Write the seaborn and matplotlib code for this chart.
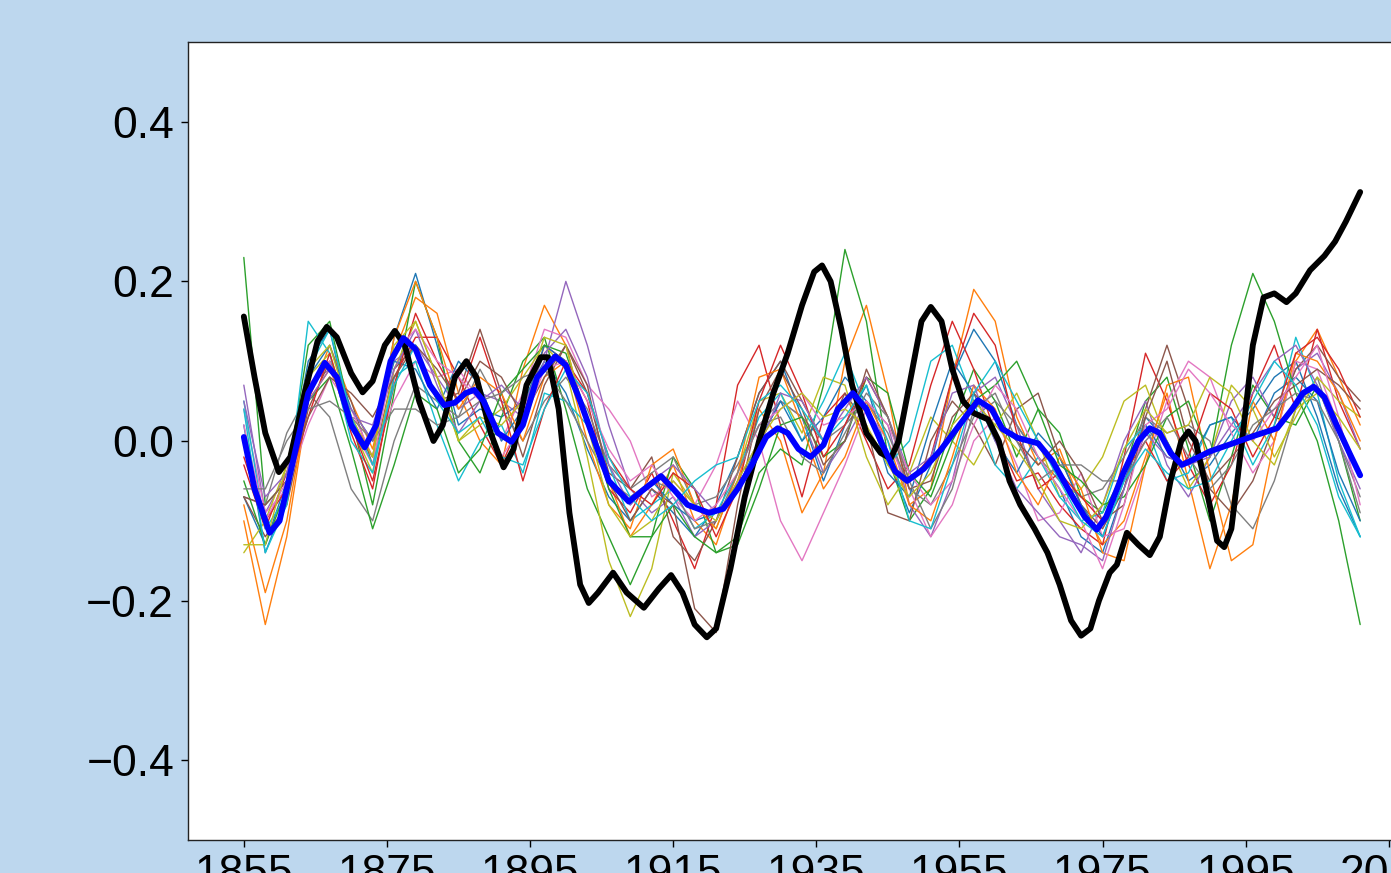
import numpy as np
import pandas as pd
import matplotlib
matplotlib.use("Agg")
import matplotlib.pyplot as plt
import seaborn as sns

# common year grid of the thin model runs
YEARS = list(range(1855, 2012, 3))

RUNS = [
    [-0.07, -0.13, -0.05, 0.10, 0.14, 0.02, -0.02, 0.13, 0.21, 0.12,
     0.02, 0.04, 0.03, 0.05, 0.10, 0.06, -0.01, -0.07, -0.10, -0.06,
     -0.09, -0.12, -0.08, -0.02, 0.06, 0.10, 0.03, -0.05, 0.02, 0.07,
     -0.02, -0.09, -0.03, 0.08, 0.14, 0.10, 0.02, -0.02, -0.06, -0.12,
     -0.14, -0.06, 0.03, 0.00, -0.05, -0.03, 0.01, 0.04, 0.08, 0.10,
     0.03, -0.06, -0.12],
    [-0.10, -0.23, -0.12, 0.05, 0.12, 0.05, -0.01, 0.11, 0.18, 0.16,
     0.06, 0.00, -0.03, 0.09, 0.17, 0.12, 0.02, -0.05, -0.12, -0.08,
     -0.03, -0.10, -0.13, -0.05, 0.04, 0.00, -0.09, -0.04, 0.10, 0.17,
     0.06, -0.08, -0.06, 0.08, 0.19, 0.15, 0.03, -0.03, -0.01, -0.08,
     -0.13, -0.10, -0.02, 0.06, -0.05, -0.16, -0.08, 0.05, 0.00, 0.10,
     0.14, 0.08, 0.02],
    [0.23, -0.08, -0.05, 0.12, 0.15, 0.03, -0.08, 0.06, 0.20, 0.13,
     0.00, -0.04, 0.03, 0.10, 0.13, 0.04, -0.06, -0.12, -0.18, -0.12,
     -0.02, -0.06, -0.14, -0.12, -0.04, -0.01, -0.03, 0.07, 0.24, 0.15,
     -0.02, -0.10, -0.06, 0.02, 0.09, 0.05, -0.02, 0.04, 0.01, -0.07,
     -0.09, -0.04, 0.05, 0.08, -0.01, -0.10, -0.02, 0.07, 0.03, 0.02,
     0.07, 0.00, -0.10],
    [-0.03, -0.11, -0.04, 0.06, 0.10, 0.01, -0.06, 0.08, 0.13, 0.13,
     0.08, 0.02, -0.03, 0.03, 0.12, 0.10, 0.05, -0.06, -0.09, -0.04,
     -0.10, -0.16, -0.08, 0.07, 0.12, 0.02, -0.07, 0.03, 0.06, 0.00,
     -0.06, -0.03, 0.07, 0.15, 0.09, 0.01, -0.05, -0.04, -0.08, -0.11,
     -0.13, -0.02, 0.11, 0.05, -0.03, -0.08, -0.03, 0.06, 0.12, 0.04,
     0.14, 0.05, -0.01],
    [0.07, -0.09, -0.04, 0.07, 0.09, 0.03, 0.02, 0.10, 0.12, 0.08,
     0.04, 0.06, 0.05, 0.03, 0.10, 0.20, 0.12, 0.02, -0.06, -0.09,
     -0.07, -0.12, -0.10, -0.05, 0.00, 0.05, 0.03, -0.04, 0.00, 0.05,
     0.02, -0.08, -0.12, -0.05, 0.06, 0.08, 0.02, -0.06, -0.10, -0.14,
     -0.08, 0.00, 0.05, -0.03, -0.07, -0.02, 0.05, 0.08, 0.03, 0.09,
     0.11, 0.06, -0.01],
    [-0.07, -0.12, -0.08, 0.04, 0.10, 0.05, -0.03, 0.09, 0.12, 0.05,
     0.06, 0.14, 0.06, -0.02, 0.07, 0.12, 0.06, -0.04, -0.06, -0.02,
     -0.12, -0.15, -0.10, -0.02, 0.06, 0.10, 0.05, 0.00, 0.06, 0.02,
     -0.09, -0.10, 0.00, 0.05, 0.02, -0.03, 0.04, 0.06, -0.02, -0.08,
     -0.11, -0.06, 0.04, 0.12, 0.04, -0.06, -0.09, -0.05, 0.02, 0.09,
     0.12, 0.08, 0.05],
    [0.04, -0.09, -0.06, 0.02, 0.08, 0.04, -0.02, 0.05, 0.10, 0.08,
     0.09, 0.05, 0.00, 0.06, 0.14, 0.13, 0.07, 0.04, 0.00, -0.07,
     -0.05, -0.08, -0.03, 0.05, 0.00, -0.10, -0.15, -0.09, -0.03, 0.04,
     0.00, -0.06, -0.12, -0.08, 0.00, 0.03, -0.03, -0.10, -0.09, -0.04,
     -0.12, -0.11, -0.03, 0.05, 0.10, 0.08, 0.01, -0.04, 0.00, 0.10,
     0.09, 0.02, -0.04],
    [-0.07, -0.08, 0.01, 0.06, 0.03, -0.06, -0.10, 0.00, 0.07, 0.05,
     0.03, 0.09, 0.04, 0.00, 0.05, 0.08, 0.04, -0.03, -0.06, -0.04,
     -0.02, -0.08, -0.07, -0.03, 0.02, 0.05, 0.03, 0.00, 0.02, 0.05,
     0.01, -0.06, -0.08, -0.03, 0.03, 0.05, 0.02, -0.02, -0.05, -0.07,
     -0.06, -0.02, 0.03, 0.01, 0.02, 0.00, -0.08, -0.11, -0.05, 0.04,
     0.08, 0.00, -0.07],
    [-0.14, -0.10, -0.03, 0.08, 0.11, 0.02, -0.04, 0.09, 0.15, 0.08,
     0.00, 0.02, 0.04, 0.08, 0.12, 0.09, -0.02, -0.15, -0.22, -0.16,
     -0.04, -0.08, -0.11, -0.04, 0.05, 0.06, 0.01, 0.08, 0.07, -0.02,
     -0.08, -0.04, 0.03, 0.00, -0.03, 0.02, 0.06, 0.00, -0.07, -0.06,
     -0.02, 0.05, 0.07, 0.00, -0.06, -0.02, 0.07, 0.04, -0.02, 0.03,
     0.08, 0.05, 0.03],
    [0.05, -0.11, -0.07, 0.15, 0.11, 0.00, -0.04, 0.08, 0.10, 0.02,
     -0.05, 0.00, 0.02, -0.04, 0.06, 0.05, 0.02, -0.03, -0.10, -0.08,
     -0.06, -0.11, -0.09, -0.04, 0.03, 0.06, 0.00, 0.05, 0.11, 0.04,
     -0.03, 0.00, 0.10, 0.12, 0.05, -0.03, -0.06, -0.02, -0.07, -0.10,
     -0.09, -0.01, 0.02, -0.05, -0.04, 0.02, 0.03, -0.03, 0.02, 0.13,
     0.06, -0.05, -0.12],
    [0.02, -0.14, -0.07, 0.08, 0.12, 0.04, 0.00, 0.10, 0.09, 0.04,
     0.10, 0.07, 0.00, 0.04, 0.12, 0.10, 0.03, -0.05, -0.08, -0.05,
     -0.08, -0.10, -0.09, -0.06, 0.00, 0.05, 0.00, 0.03, 0.08, 0.05,
     -0.04, -0.07, 0.02, 0.10, 0.06, 0.00, -0.04, 0.01, -0.02, -0.08,
     -0.12, -0.05, 0.02, -0.02, -0.03, 0.02, 0.03, 0.00, 0.06, 0.08,
     0.05, -0.04, -0.10],
    [-0.08, -0.19, -0.10, 0.05, 0.09, 0.03, -0.02, 0.13, 0.20, 0.13,
     0.04, 0.08, 0.06, 0.00, 0.08, 0.10, 0.00, -0.08, -0.11, -0.03,
     -0.01, -0.08, -0.11, -0.04, 0.08, 0.09, 0.02, -0.06, -0.02, 0.05,
     0.00, -0.08, -0.10, -0.02, 0.07, 0.04, -0.04, -0.08, -0.02, -0.06,
     -0.14, -0.15, -0.03, 0.07, 0.08, -0.04, -0.15, -0.13, 0.00, 0.11,
     0.10, 0.06, 0.00],
    [-0.05, -0.13, -0.06, 0.05, 0.08, -0.01, -0.11, -0.03, 0.06, 0.04,
     -0.04, -0.01, 0.06, 0.09, 0.12, 0.11, 0.03, -0.06, -0.12, -0.12,
     -0.08, -0.12, -0.14, -0.13, -0.06, 0.02, 0.03, -0.02, 0.00, 0.08,
     0.06, -0.04, -0.07, 0.00, 0.05, 0.07, 0.10, 0.04, -0.03, -0.05,
     -0.08, -0.07, -0.03, 0.03, 0.05, -0.02, 0.12, 0.21, 0.15, 0.06,
     0.00, -0.10, -0.23],
    [-0.02, -0.10, -0.06, 0.03, 0.11, 0.02, -0.05, 0.07, 0.16, 0.10,
     0.05, 0.13, 0.05, -0.05, 0.04, 0.10, 0.06, -0.02, -0.06, -0.08,
     -0.04, -0.06, -0.12, -0.06, 0.05, 0.12, 0.06, -0.02, 0.02, 0.08,
     0.03, -0.05, -0.02, 0.08, 0.16, 0.12, 0.01, -0.06, -0.04, -0.07,
     -0.10, -0.04, 0.00, -0.05, -0.02, 0.06, 0.04, -0.02, 0.03, 0.11,
     0.13, 0.09, 0.03],
    [0.05, -0.07, -0.04, 0.05, 0.09, 0.04, 0.00, 0.09, 0.14, 0.07,
     0.01, 0.05, 0.07, 0.04, 0.11, 0.14, 0.08, -0.03, -0.08, -0.05,
     -0.03, -0.06, -0.09, -0.06, -0.01, 0.06, 0.05, 0.00, 0.04, 0.08,
     0.03, -0.04, -0.02, 0.06, 0.07, 0.00, -0.06, -0.09, -0.12, -0.13,
     -0.15, -0.06, 0.01, -0.02, -0.03, -0.02, 0.02, 0.06, 0.10, 0.12,
     0.07, 0.00, -0.06],
    [-0.07, -0.08, -0.05, 0.03, 0.08, 0.06, 0.03, 0.08, 0.12, 0.09,
     0.05, 0.10, 0.08, 0.03, 0.08, 0.12, 0.07, -0.05, -0.10, -0.06,
     -0.08, -0.21, -0.24, -0.08, 0.04, 0.09, 0.04, -0.03, 0.00, 0.09,
     0.03, -0.06, -0.05, 0.03, 0.06, 0.03, 0.00, -0.03, 0.00, -0.04,
     -0.10, -0.08, 0.03, 0.10, 0.00, -0.05, -0.02, 0.01, 0.05, 0.07,
     0.09, 0.07, 0.04],
    [0.02, -0.10, -0.05, 0.07, 0.10, 0.02, -0.03, 0.11, 0.14, 0.10,
     0.08, 0.05, -0.02, 0.02, 0.09, 0.10, 0.05, -0.01, -0.05, -0.03,
     -0.07, -0.10, -0.08, -0.04, 0.02, 0.04, 0.06, 0.02, 0.03, 0.05,
     0.02, -0.04, -0.08, -0.05, 0.02, 0.07, 0.04, -0.02, -0.06, -0.10,
     -0.16, -0.08, 0.02, 0.04, 0.09, 0.06, 0.02, 0.00, 0.04, 0.08,
     0.12, 0.03, -0.08],
    [-0.06, -0.06, 0.00, 0.04, 0.05, 0.03, 0.00, 0.04, 0.04, 0.02,
     0.03, 0.05, 0.06, 0.08, 0.09, 0.05, 0.00, -0.05, -0.07, -0.05,
     -0.06, -0.11, -0.10, -0.04, 0.02, 0.03, -0.02, -0.04, 0.01, 0.06,
     0.03, -0.05, -0.11, -0.06, 0.04, 0.06, 0.00, -0.05, -0.03, -0.03,
     -0.05, -0.05, 0.00, 0.03, -0.02, -0.06, -0.03, 0.02, 0.04, 0.06,
     0.05, 0.00, -0.09],
    [-0.13, -0.13, -0.03, 0.09, 0.12, 0.03, -0.02, 0.12, 0.15, 0.08,
     0.00, 0.03, 0.02, 0.05, 0.13, 0.12, 0.02, -0.08, -0.12, -0.10,
     -0.05, -0.08, -0.10, -0.05, 0.00, 0.04, 0.06, 0.03, 0.04, 0.02,
     -0.03, -0.07, -0.04, 0.02, 0.05, 0.02, -0.01, -0.05, -0.10, -0.11,
     -0.08, -0.01, 0.04, 0.01, 0.02, 0.08, 0.06, 0.00, -0.03, 0.04,
     0.06, 0.03, -0.01],
    [0.04, -0.14, -0.08, 0.09, 0.14, 0.03, -0.03, 0.07, 0.12, 0.05,
     0.01, 0.03, -0.02, -0.03, 0.04, 0.09, 0.06, -0.02, -0.07, -0.10,
     -0.08, -0.05, -0.03, -0.02, 0.05, 0.07, 0.04, 0.00, 0.03, 0.07,
     0.00, -0.10, -0.11, -0.03, 0.06, 0.10, 0.05, 0.00, -0.05, -0.10,
     -0.12, -0.05, -0.01, -0.04, -0.06, -0.05, 0.00, 0.05, 0.10, 0.07,
     0.02, -0.07, -0.12],
]

# observed series (thick black)
OBS_YEARS = [1855, 1856.5, 1858, 1859.9, 1861.5, 1863.5, 1865.3, 1866.6, 1868, 1870,
             1871.6, 1873, 1874.7, 1876.1, 1877.5, 1879.5, 1881.5, 1882.8, 1884.5, 1886.1,
             1887.5, 1889.5, 1891.3, 1892.7, 1894.5, 1896.5, 1897.5, 1899, 1900.5, 1902,
             1903.2, 1904.5, 1906.6, 1908.5, 1910.9, 1913, 1914.7, 1916.3, 1918, 1919.7,
             1921, 1923, 1925, 1927, 1929, 1931, 1933, 1934.7, 1935.8, 1937,
             1938.5, 1940, 1942, 1944, 1945.4, 1946.5, 1948, 1949.7, 1951, 1952.5,
             1954, 1955.5, 1957, 1959, 1960.5, 1962, 1963.5, 1965.5, 1967.3, 1969,
             1970.6, 1972, 1973.3, 1974.5, 1976, 1977, 1978.4, 1980, 1981.6, 1983,
             1984.5, 1986, 1987, 1988, 1989.5, 1991, 1992, 1993, 1994.5, 1996,
             1997.5, 1999, 2000.7, 2002, 2004, 2006, 2007.5, 2009, 2011]
OBS_VALUES = [0.156, 0.08, 0.01, -0.039, -0.02, 0.06, 0.125, 0.143, 0.13, 0.085,
              0.061, 0.075, 0.12, 0.138, 0.12, 0.05, 0.0, 0.02, 0.08, 0.10,
              0.08, 0.01, -0.033, -0.01, 0.07, 0.105, 0.105, 0.04, -0.09, -0.18,
              -0.203, -0.19, -0.165, -0.19, -0.209, -0.185, -0.168, -0.19, -0.23, -0.246,
              -0.235, -0.16, -0.07, 0.0, 0.06, 0.11, 0.17, 0.212, 0.22, 0.2,
              0.14, 0.07, 0.01, -0.015, -0.022, 0.0, 0.07, 0.15, 0.168, 0.15,
              0.09, 0.05, 0.035, 0.027, 0.0, -0.05, -0.08, -0.11, -0.14, -0.18,
              -0.225, -0.244, -0.235, -0.2, -0.165, -0.155, -0.115, -0.13, -0.143, -0.12,
              -0.05, 0.0, 0.012, 0.0, -0.06, -0.125, -0.133, -0.11, 0.0, 0.12,
              0.18, 0.185, 0.174, 0.185, 0.214, 0.232, 0.25, 0.275, 0.312]

# ensemble mean (thick blue)
MEAN_YEARS = [1855, 1856.5, 1858.6, 1860, 1862, 1864, 1866.3, 1868, 1870, 1871.9,
              1873.5, 1875.5, 1877.3, 1879, 1881, 1883, 1884.5, 1886, 1887.2, 1888.5,
              1890.5, 1892.4, 1894, 1896, 1898.5, 1900, 1902, 1904, 1906, 1908.8,
              1911, 1913.3, 1915, 1917, 1920, 1922, 1924, 1926, 1928, 1929.6,
              1931, 1932.5, 1934.2, 1936, 1938, 1940.1, 1942, 1944, 1946, 1947.7,
              1950, 1952.4, 1955, 1957.6, 1959.5, 1961, 1963.1, 1966, 1968, 1970.5,
              1972.5, 1974.2, 1975.5, 1977.9, 1980, 1981.6, 1983, 1984.5, 1986.1, 1988,
              1990, 1993.2, 1996, 1999.4, 2001.5, 2003, 2004.5, 2006, 2007.7, 2009.5,
              2011]
MEAN_VALUES = [0.005, -0.06, -0.115, -0.1, -0.02, 0.06, 0.098, 0.08, 0.02, -0.008,
               0.02, 0.1, 0.129, 0.115, 0.07, 0.045, 0.048, 0.06, 0.064, 0.05,
               0.01, -0.001, 0.02, 0.08, 0.106, 0.095, 0.05, 0.0, -0.05, -0.076,
               -0.06, -0.044, -0.06, -0.08, -0.09, -0.085, -0.06, -0.03, 0.005, 0.016,
               0.01, -0.01, -0.02, -0.005, 0.04, 0.06, 0.04, 0.0, -0.038, -0.05,
               -0.035, -0.011, 0.02, 0.051, 0.04, 0.015, 0.004, -0.003, -0.025, -0.065,
               -0.095, -0.111, -0.095, -0.04, 0.0, 0.016, 0.01, -0.015, -0.03, -0.022,
               -0.013, -0.003, 0.006, 0.016, 0.04, 0.06, 0.068, 0.055, 0.02, -0.015,
               -0.043]

X_TICKS = [1855, 1875, 1895, 1915, 1935, 1955, 1975, 1995, 2015]
Y_TICKS = [-0.4, -0.2, 0.0, 0.2, 0.4]


def build_runs():

    frames = []
    for i, vals in enumerate(RUNS):
        d = pd.DataFrame({"year": YEARS, "value": vals})
        d["run"] = f"run{i:02d}"
        frames.append(d)

    return pd.concat(frames, ignore_index=True)


def main():

    sns.set_style("white")
    plt.rcParams["font.family"] = ["Liberation Sans", "DejaVu Sans"]

    runs = build_runs()

    fig = plt.figure(figsize=(13.91, 8.73), dpi=100)
    fig.patch.set_facecolor("#bdd7ee")

    ax = fig.add_axes([188 / 1391, 33 / 873, 1228 / 1391, 798 / 873])
    ax.set_facecolor("white")

    palette = sns.color_palette("tab10", n_colors=len(RUNS))
    sns.lineplot(data=runs, x="year", y="value", hue="run", palette=palette,
                 linewidth=1, estimator=None, legend=False, ax=ax)

    sns.lineplot(x=OBS_YEARS, y=OBS_VALUES, color="black", linewidth=4.2,
                 estimator=None, ax=ax)
    sns.lineplot(x=MEAN_YEARS, y=MEAN_VALUES, color="blue", linewidth=4.2,
                 estimator=None, ax=ax)

    ax.set_xlim(1847.2, 2018.8)
    ax.set_ylim(-0.5, 0.5)
    ax.set_xticks(X_TICKS)
    ax.set_yticks(Y_TICKS)
    ax.set_xlabel("")
    ax.set_ylabel("")

    ax.tick_params(axis="both", which="major", labelsize=32, length=5,
                   width=1, color="black", labelcolor="black",
                   direction="out", bottom=True, left=True)
    ax.tick_params(axis="x", pad=5)
    ax.tick_params(axis="y", pad=5)

    for spine in ax.spines.values():
        spine.set_color("#222222")
        spine.set_linewidth(1.0)

    fig.savefig("out.png", dpi=100, facecolor=fig.get_facecolor())


if __name__ == "__main__":

    main()
